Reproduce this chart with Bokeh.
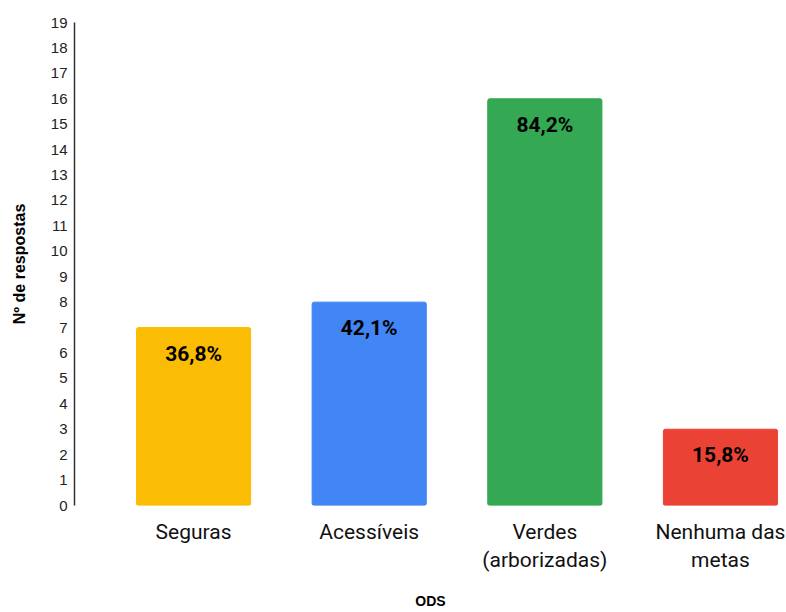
from bokeh.plotting import figure
from bokeh.models import ColumnDataSource, FixedTicker, Range1d
from bokeh.core.properties import value
from bokeh.embed import file_html
from bokeh.resources import INLINE

categories = ["Seguras", "Acessíveis", "Verdes\n(arborizadas)", "Nenhuma das\nmetas"]
counts = [7, 8, 16, 3]
percent_labels = ["36,8%", "42,1%", "84,2%", "15,8%"]
colors = ["#FBBC04", "#4285F4", "#34A853", "#EA4335"]
y_ticks = list(range(0, 20))

xs = list(range(len(categories)))
src = ColumnDataSource(dict(x=xs, top=counts, lab=percent_labels, color=colors))

p = figure(width=786, height=612, output_backend="svg", toolbar_location=None,
           x_range=Range1d(-0.678, 3.376), y_range=Range1d(0, 19),
           min_border_left=74, min_border_right=0, min_border_top=22, min_border_bottom=96)
p.outline_line_color = None
p.xgrid.visible = False
p.ygrid.visible = False

p.vbar(x="x", top="top", width=0.65, bottom=0, color="color", source=src, border_radius=2)
p.text(x="x", y="top", text="lab", source=src, text_align="center", text_baseline="middle",
       y_offset=26, text_font=value("Roboto"), text_font_style="bold", text_font_size="21px",
       text_color="#000000")

ya = p.yaxis[0]
ya.ticker = FixedTicker(ticks=y_ticks)
ya.major_tick_line_color = None
ya.minor_tick_line_color = None
ya.axis_line_color = "#333333"
ya.axis_line_width = 1.5
ya.major_label_text_font = "Liberation Sans"
ya.major_label_text_font_size = "15px"
ya.major_label_text_color = "#222222"
ya.major_label_standoff = 1
ya.axis_label = "Nº de respostas"
ya.axis_label_text_font = "Liberation Sans"
ya.axis_label_text_font_style = "bold"
ya.axis_label_text_font_size = "16px"
ya.axis_label_text_color = "#000000"
ya.axis_label_standoff = 20

xa = p.xaxis[0]
xa.ticker = FixedTicker(ticks=xs)
xa.major_label_overrides = {i: c for i, c in zip(xs, categories)}
xa.axis_line_color = None
xa.major_tick_line_color = None
xa.minor_tick_line_color = None
xa.major_label_text_font = "Roboto"
xa.major_label_text_font_size = "21px"
xa.major_label_text_color = "#111111"
xa.major_label_standoff = 8
xa.axis_label = "ODS"
xa.axis_label_text_font = "Liberation Sans"
xa.axis_label_text_font_style = "bold"
xa.axis_label_text_font_size = "14px"
xa.axis_label_text_color = "#000000"
xa.axis_label_standoff = 18

open("out.html", "w").write(file_html(p, INLINE))
